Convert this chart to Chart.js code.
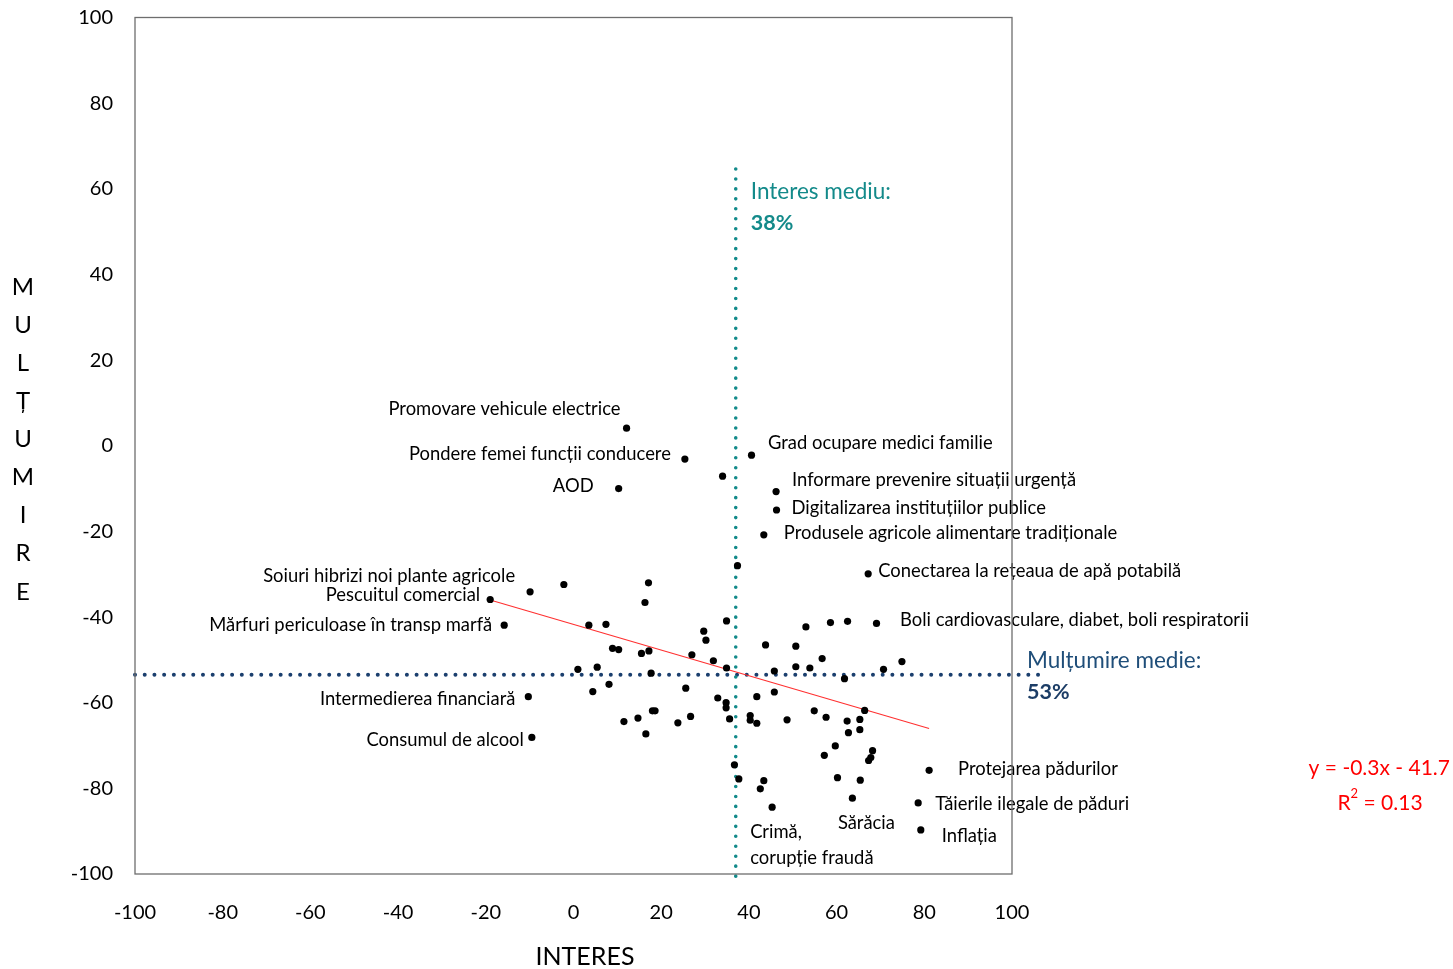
<!DOCTYPE html>
<html>
<head>
<meta charset="utf-8">
<script src="https://cdn.jsdelivr.net/npm/chart.js@4.4.1/dist/chart.umd.min.js"></script>
<style>
  html, body { margin: 0; padding: 0; background: #ffffff; }
  #wrap { width: 1453px; height: 969px; }
</style>
</head>
<body>
<div id="wrap"><canvas id="c" width="1453" height="969"></canvas></div>
<script>
// ---------------- DATA ----------------
const interes = [12.1, 25.4, 34.0, 10.3, 40.6, 46.2, 46.3, 43.4, 37.4, 67.2,
  -9.9, -19.0, -2.2, 17.1, 16.3, -15.8, 3.5, 7.4, 34.9, 29.7,
  30.2, 8.9, 10.3, 15.5, 17.2, 27.0, 31.9, 34.9, 1.0, 5.4,
  17.7, 8.1, 4.4, 25.6, -10.3, 32.9, 34.8, 34.8, 41.8, 18.0,
  18.6, 11.5, 14.7, 23.8, 26.7, 35.6, 40.3, 40.3, 41.8, 16.5,
  -9.5, 53.0, 58.6, 62.5, 69.1, 43.8, 50.7, 56.7, 50.7, 53.9,
  45.8, 61.8, 70.7, 74.9, 45.8, 48.7, 54.9, 57.6, 66.4, 62.4,
  65.3, 62.7, 65.3, 59.7, 68.2, 67.8, 67.3, 57.2, 81.1, 36.7,
  37.7, 43.4, 42.6, 60.2, 65.4, 63.6, 45.3, 78.6, 79.2];
const multumire = [4.1, -3.1, -7.1, -10.0, -2.2, -10.7, -15.0, -20.8, -28.0, -29.9,
  -34.1, -35.9, -32.4, -32.0, -36.6, -41.9, -41.9, -41.7, -40.9, -43.3,
  -45.4, -47.3, -47.6, -48.5, -47.9, -48.8, -50.2, -51.9, -52.2, -51.7,
  -53.1, -55.7, -57.4, -56.6, -58.6, -58.9, -60.0, -61.2, -58.6, -61.9,
  -61.9, -64.4, -63.6, -64.7, -63.2, -63.8, -63.0, -64.1, -64.8, -67.3,
  -68.1, -42.3, -41.3, -41.0, -41.5, -46.5, -46.8, -49.7, -51.6, -51.9,
  -52.6, -54.4, -52.2, -50.4, -57.5, -64.0, -61.9, -63.4, -61.8, -64.3,
  -63.9, -67.0, -66.3, -70.1, -71.2, -72.8, -73.5, -72.3, -75.8, -74.5,
  -77.8, -78.2, -80.1, -77.5, -78.1, -82.3, -84.4, -83.4, -89.7];

const topicLabels = ["Promovare vehicule electrice", "Pondere femei funcții conducere", "AOD",
  "Grad ocupare medici familie", "Informare prevenire situații urgență", "Digitalizarea instituțiilor publice",
  "Produsele agricole alimentare tradiționale", "Conectarea la rețeaua de apă potabilă",
  "Soiuri hibrizi noi plante agricole", "Pescuitul comercial", "Mărfuri periculoase în transp marfă",
  "Intermedierea financiară", "Consumul de alcool", "Boli cardiovasculare, diabet, boli respiratorii",
  "Protejarea pădurilor", "Sărăcia", "Crimă,|corupție fraudă", "Tăierile ilegale de păduri", "Inflația"];
const topicPointIndex = [0, 1, 3, 4, 5, 6, 7, 9, 10, 11, 15, 34, 50, 54, 78, 85, 86, 87, 88];

const xTicks = [-100, -80, -60, -40, -20, 0, 20, 40, 60, 80, 100];
const yTicks = [-100, -80, -60, -40, -20, 0, 20, 40, 60, 80, 100];

const meanInteres = 37;          // vertical dotted line
const meanInteresText = ["Interes mediu:", "38%"];
const meanInteresTop = 65.3;
const meanMultumire = -53.5;     // horizontal dotted line
const meanMultumireText = ["Mulțumire medie:", "53%"];
const meanMultumireEnd = 106.4;

const trendSlope = -0.3;
const trendIntercept = -41.7;
const trendEquation = "y = -0.3x - 41.7";
const trendR2 = "0.13";

const xTitle = "INTERES";
const yTitle = "MULȚUMIRE";

// ---------------- BUILD ----------------
const points = interes.map((x, i) => ({ x: x, y: multumire[i] }));
const xMin = Math.min(...interes), xMax = Math.max(...interes);
const trendData = [
  { x: xMin, y: trendSlope * xMin + trendIntercept },
  { x: xMax, y: trendSlope * xMax + trendIntercept }
];
const vLine = [{ x: meanInteres, y: -100.5 }, { x: meanInteres, y: meanInteresTop }];
const hLine = [{ x: -100, y: meanMultumire }, { x: meanMultumireEnd, y: meanMultumire }];

const FONT = "Lato, 'Open Sans', sans-serif";
const TEAL = '#138a8a';
const NAVY = '#1b3f6e';

// label placement (pixel offsets from each labelled point)
const labelLayout = [
  { align: 'right', dx: -6, dy: -19 },
  { align: 'right', dx: -14, dy: -5 },
  { align: 'right', dx: -25, dy: -3 },
  { align: 'left', dx: 16.5, dy: -12 },
  { align: 'left', dx: 16, dy: -12 },
  { align: 'left', dx: 15, dy: -2 },
  { align: 'left', dx: 20, dy: -2 },
  { align: 'left', dx: 10, dy: -3 },
  { align: 'right', dx: -15, dy: -16 },
  { align: 'right', dx: -10, dy: -4 },
  { align: 'right', dx: -12, dy: 0 },
  { align: 'right', dx: -13, dy: 2 },
  { align: 'right', dx: -8, dy: 3 },
  { align: 'left', dx: 23.5, dy: -3 },
  { align: 'left', dx: 29, dy: -1 },
  { align: 'left', dx: -14.5, dy: 25 },
  { align: 'left', dx: -22, dy: 25, lineGap: 26 },
  { align: 'left', dx: 17, dy: 1 },
  { align: 'left', dx: 21, dy: 6 }
];

const annotationPlugin = {
  id: 'annotations',
  afterDatasetsDraw(chart) {
    const ctx = chart.ctx;
    const xs = chart.scales.x, ys = chart.scales.y;
    ctx.save();
    ctx.textBaseline = 'middle';
    ctx.fillStyle = '#000';
    ctx.font = "18.4px " + FONT;
    topicLabels.forEach((t, k) => {
      const i = topicPointIndex[k];
      const L = labelLayout[k];
      const px = xs.getPixelForValue(interes[i]);
      const py = ys.getPixelForValue(multumire[i]);
      ctx.textAlign = L.align;
      t.split('|').forEach((line, j) => {
        ctx.fillText(line, px + L.dx, py + L.dy + j * (L.lineGap || 0));
      });
    });

    // mean interes label
    const vx = xs.getPixelForValue(meanInteres);
    const vTop = ys.getPixelForValue(meanInteresTop);
    ctx.textAlign = 'left';
    ctx.fillStyle = TEAL;
    ctx.font = "22.5px " + FONT;
    ctx.fillText(meanInteresText[0], vx + 15, vTop + 26);
    ctx.font = "bold 21.5px " + FONT;
    ctx.fillText(meanInteresText[1], vx + 15, vTop + 57);

    // mean multumire label
    const hx = xs.getPixelForValue(100);
    const hy = ys.getPixelForValue(meanMultumire);
    ctx.fillStyle = '#1f4e79';
    ctx.font = "22.5px " + FONT;
    ctx.fillText(meanMultumireText[0], hx + 15, hy - 14);
    ctx.fillStyle = '#1c3d66';
    ctx.font = "bold 21.5px " + FONT;
    ctx.fillText(meanMultumireText[1], hx + 15, hy + 17);

    // trend equation
    ctx.fillStyle = '#ff0000';
    ctx.font = "21px " + FONT;
    ctx.textAlign = 'right';
    ctx.fillText(trendEquation, chart.width - 3, 768);
    // R^2
    ctx.textAlign = 'left';
    const r = "R", rest = " = " + trendR2;
    const wR = ctx.measureText(r).width;
    ctx.font = "13px " + FONT;
    const w2 = ctx.measureText("2").width;
    ctx.font = "21px " + FONT;
    const wRest = ctx.measureText(rest).width;
    const total = wR + w2 + wRest;
    let sx = 1380 - total / 2;
    ctx.fillText(r, sx, 803);
    ctx.font = "13px " + FONT;
    ctx.fillText("2", sx + wR, 794);
    ctx.font = "21px " + FONT;
    ctx.fillText(rest, sx + wR + w2, 803);

    // axis titles
    ctx.fillStyle = '#000';
    ctx.font = "25px " + FONT;
    ctx.textAlign = 'center';
    ctx.fillText(xTitle, 585, 957);
    ctx.font = "24px " + FONT;
    const letters = Array.from(yTitle);
    letters.forEach((ch, j) => ctx.fillText(ch, 23, 287 + j * 38.1));
    ctx.restore();
  },
  afterDraw(chart) {
    const { left, right, top, bottom } = chart.chartArea;
    const ctx = chart.ctx;
    ctx.save();
    ctx.strokeStyle = '#6e6e6e';
    ctx.lineWidth = 1.3;
    ctx.strokeRect(left, top, right - left, bottom - top);
    ctx.restore();
  }
};

new Chart(document.getElementById('c'), {
  type: 'scatter',
  data: {
    datasets: [
      {
        label: 'Teme',
        data: points,
        pointRadius: 3.6,
        pointHoverRadius: 3.6,
        backgroundColor: '#000',
        borderWidth: 0,
        showLine: false
      },
      {
        label: 'Trend',
        data: trendData,
        showLine: true,
        borderColor: '#ff3030',
        borderWidth: 1.1,
        pointRadius: 0
      },
      {
        label: 'Interes mediu',
        data: vLine,
        showLine: true,
        borderColor: TEAL,
        borderWidth: 3.6,
        borderCapStyle: 'round',
        borderDash: [0.01, 9.95],
        pointRadius: 0,
        clip: false
      },
      {
        label: 'Mulțumire medie',
        data: hLine,
        showLine: true,
        borderColor: NAVY,
        borderWidth: 4,
        borderCapStyle: 'round',
        borderDash: [0.01, 9.7],
        pointRadius: 0,
        clip: false
      }
    ]
  },
  options: {
    responsive: false,
    animation: false,
    events: [],
    layout: { padding: { top: 17.5, right: 441, left: 0, bottom: 0 } },
    plugins: { legend: { display: false }, tooltip: { enabled: false }, title: { display: false } },
    scales: {
      x: {
        type: 'linear', min: -100, max: 100,
        afterBuildTicks: (s) => { s.ticks = xTicks.map(v => ({ value: v })); },
        afterFit: (s) => { s.height = 95; s.paddingLeft = 0; s.paddingRight = 0; },
        grid: { display: false, drawTicks: false },
        border: { display: false },
        ticks: { color: '#000', font: { family: FONT, size: 20 }, padding: 27, maxRotation: 0 }
      },
      y: {
        type: 'linear', min: -100, max: 100,
        afterBuildTicks: (s) => { s.ticks = yTicks.map(v => ({ value: v })); },
        afterFit: (s) => { s.width = 135; s.paddingTop = 0; s.paddingBottom = 0; },
        grid: { display: false, drawTicks: false },
        border: { display: false },
        ticks: { color: '#000', font: { family: FONT, size: 20 }, padding: 22 }
      }
    }
  },
  plugins: [annotationPlugin]
});
</script>
</body>
</html>
